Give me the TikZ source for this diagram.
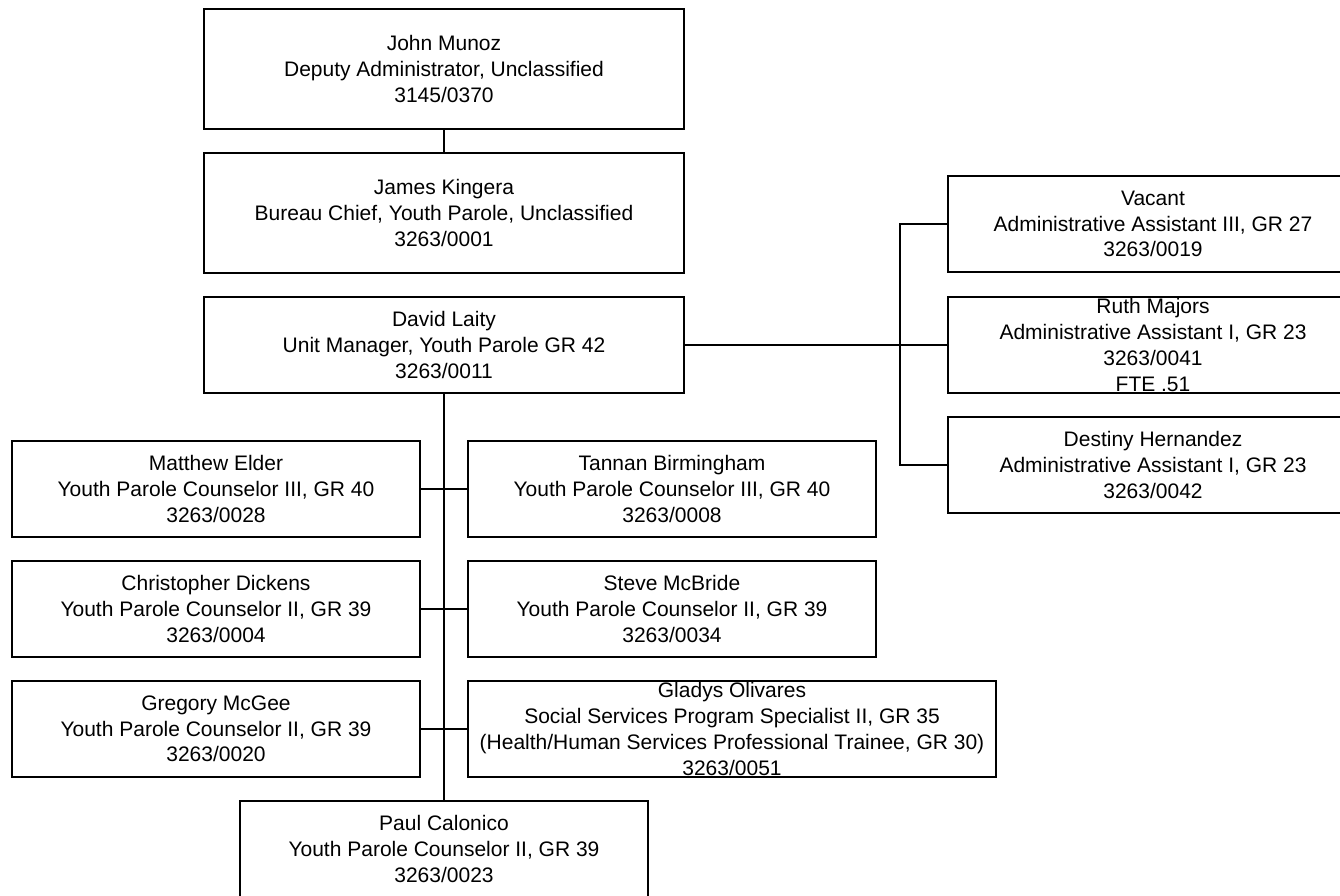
\documentclass[tikz,border=0pt]{standalone}
\usepackage{fontspec}
\setmainfont{Liberation Sans}
\usepackage{tikz}

\begin{document}
\begin{tikzpicture}[x=1pt,y=-1pt,line width=1.2pt,
	post/.style={draw,line width=1.2pt,align=center,inner sep=0pt,
		minimum width=408pt,minimum height=96pt,font=\fontsize{21}{25.7}\selectfont}]
		\useasboundingbox (0,0) rectangle (1340,895);
		% top of the chain
		\node[post,minimum width=480pt,minimum height=120pt] (munoz) at (444,69) {John Munoz\\Deputy Administrator, Unclassified\\3145/0370};
		\node[post,minimum width=480pt,minimum height=120pt] (kingera) at (444,213) {James Kingera\\Bureau Chief, Youth Parole, Unclassified\\3263/0001};
		\node[post,minimum width=480pt] (laity) at (444,345) {David Laity\\Unit Manager, Youth Parole GR 42\\3263/0011};
		% support staff
		\node[post,minimum width=410pt] (vacant) at (1153,224) {Vacant\\Administrative Assistant III, GR 27\\3263/0019};
		\node[post,minimum width=410pt] (majors) at (1153,345) {Ruth Majors\\Administrative Assistant I, GR 23\\3263/0041\\FTE .51};
		\node[post,minimum width=410pt] (hernandez) at (1153,465) {Destiny Hernandez\\Administrative Assistant I, GR 23\\3263/0042};
		% counselors
		\node[post] (elder) at (216,489) {Matthew Elder\\Youth Parole Counselor III, GR 40\\3263/0028};
		\node[post] (birmingham) at (672,489) {Tannan Birmingham\\Youth Parole Counselor III, GR 40\\3263/0008};
		\node[post] (dickens) at (216,609) {Christopher Dickens\\Youth Parole Counselor II, GR 39\\3263/0004};
		\node[post] (mcbride) at (672,609) {Steve McBride\\Youth Parole Counselor II, GR 39\\3263/0034};
		\node[post] (mcgee) at (216,729) {Gregory McGee\\Youth Parole Counselor II, GR 39\\3263/0020};
		\node[post,minimum width=528pt] (olivares) at (732,729) {Gladys Olivares\\Social Services Program Specialist II, GR 35\\(Health/Human Services Professional Trainee, GR 30)\\3263/0051};
		\node[post] (calonico) at (444,849) {Paul Calonico\\Youth Parole Counselor II, GR 39\\3263/0023};
		%
		\coordinate (bracket) at (900,345);
		% vertical lines
		\draw (munoz) -- (kingera);
		\draw (laity) -- (calonico);
		\draw (vacant.west) -- (vacant.west -| bracket) -- (hernandez.west -| bracket) -- (hernandez.west);
		% horizontal lines
		\draw (laity) -- (majors);
		\draw (elder) -- (birmingham);
		\draw (dickens) -- (mcbride);
		\draw (mcgee) -- (olivares);
\end{tikzpicture}
\end{document}
